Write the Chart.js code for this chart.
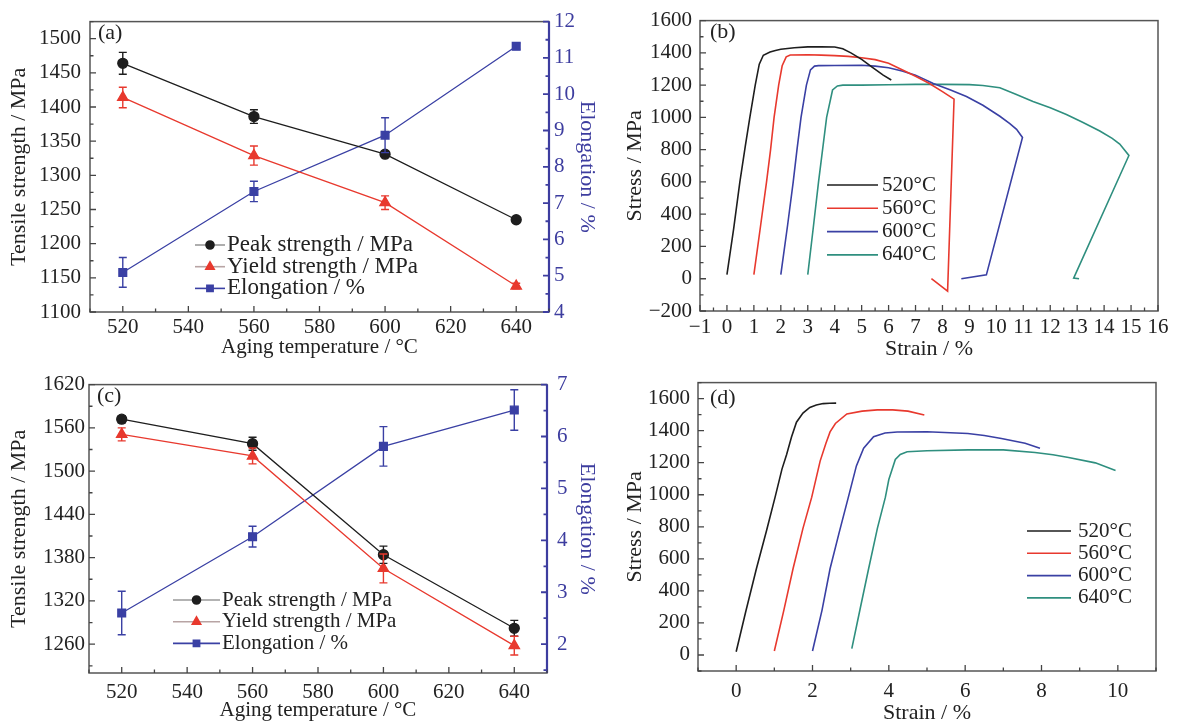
<!DOCTYPE html>
<html>
<head>
<meta charset="utf-8">
<script src="https://cdn.jsdelivr.net/npm/chart.js@4.4.1/dist/chart.umd.min.js"></script>
<style>
body { margin: 0; background: #fff; width: 1182px; height: 726px; position: relative; overflow: hidden; }
canvas { position: absolute; }
</style>
</head>
<body>
<canvas id="pa" width="600" height="362" style="left:0;top:0"></canvas>
<canvas id="pb" width="582" height="362" style="left:600px;top:0"></canvas>
<canvas id="pc" width="600" height="364" style="left:0;top:362px"></canvas>
<canvas id="pd" width="582" height="364" style="left:600px;top:362px"></canvas>
<script>
/* DATA */
const temps = [520, 560, 600, 640];
const seriesNames = ["Peak strength / MPa", "Yield strength / MPa", "Elongation / %"];
const curveNames = ["520°C", "560°C", "600°C", "640°C"];

// tick labels
const tempTicks = [520, 540, 560, 580, 600, 620, 640];
const strengthTicksA = [1100, 1150, 1200, 1250, 1300, 1350, 1400, 1450, 1500];
const elongTicksA = [4, 5, 6, 7, 8, 9, 10, 11, 12];
const strengthTicksC = [1260, 1320, 1380, 1440, 1500, 1560, 1620];
const elongTicksC = [2, 3, 4, 5, 6, 7];
const strainTicksB = [-1, 0, 1, 2, 3, 4, 5, 6, 7, 8, 9, 10, 11, 12, 13, 14, 15, 16];
const stressTicksB = [-200, 0, 200, 400, 600, 800, 1000, 1200, 1400, 1600];
const strainTicksD = [0, 2, 4, 6, 8, 10];
const stressTicksD = [0, 200, 400, 600, 800, 1000, 1200, 1400, 1600];

// (a)
const peakA = [1464, 1386, 1331, 1235];
const peakAErr = [16, 10, 4, 3];
const yieldA = [1414, 1329, 1260, 1138];
const yieldAErr = [15, 14, 10, 4];
const elongA = [5.09, 7.32, 8.87, 11.32];
const elongAErr = [0.41, 0.28, 0.48, 0.08];

// (c)
const peakC = [1572, 1538, 1384, 1282];
const peakCErr = [5, 9, 12, 11];
const yieldC = [1551, 1521, 1365, 1258];
const yieldCErr = [9, 11, 20, 13];
const elongC = [2.6, 4.07, 5.81, 6.51];
const elongCErr = [0.42, 0.2, 0.38, 0.39];

// (b) stress-strain
const strainB520 = [0, 0.25, 0.48, 0.68, 0.85, 1.05, 1.2, 1.35, 1.6, 1.8, 2.0, 2.5, 3.0, 3.5, 4.0, 4.3, 4.6, 5.0, 5.4, 5.8, 6.1];
const stressB520 = [25, 310, 600, 820, 1000, 1200, 1330, 1385, 1405, 1415, 1422, 1432, 1437, 1438, 1436, 1425, 1400, 1360, 1310, 1262, 1232];
const strainB560 = [1.0, 1.25, 1.47, 1.62, 1.75, 1.92, 2.05, 2.2, 2.35, 3.0, 3.5, 4.0, 4.5, 5.0, 5.5, 6.0, 6.5, 7.0, 7.5, 8.0, 8.43, 8.19, 7.59];
const stressB560 = [25, 330, 600, 800, 1000, 1200, 1320, 1375, 1387, 1388, 1386, 1383, 1378, 1370, 1358, 1335, 1295, 1255, 1212, 1160, 1113, -77, 0];
const strainB600 = [2.0, 2.25, 2.46, 2.6, 2.75, 2.95, 3.1, 3.25, 3.4, 4.0, 5.0, 5.5, 6.0, 6.5, 7.0, 7.66, 8.3, 8.89, 9.5, 10.13, 10.5, 10.75, 10.97, 9.63, 8.7];
const stressB600 = [25, 330, 600, 800, 1000, 1200, 1295, 1318, 1321, 1322, 1323, 1318, 1308, 1288, 1262, 1210, 1170, 1129, 1075, 1007, 962, 926, 876, 24, 0];
const strainB640 = [3.0, 3.2, 3.4, 3.55, 3.7, 3.92, 4.1, 4.3, 5.0, 6.0, 7.0, 8.0, 9.0, 9.5, 10.13, 10.7, 11.36, 12.0, 12.6, 13.2, 13.84, 14.3, 14.58, 14.92, 12.87, 13.07];
const stressB640 = [25, 310, 600, 800, 1000, 1170, 1195, 1200, 1200, 1202, 1205, 1205, 1203, 1198, 1184, 1145, 1099, 1060, 1018, 970, 916, 870, 835, 764, 4, 0];

// (d) stress-strain
const strainD520 = [0, 0.25, 0.53, 0.8, 1.02, 1.2, 1.32, 1.45, 1.58, 1.75, 1.93, 2.1, 2.28, 2.45, 2.62];
const stressD520 = [20, 270, 538, 780, 985, 1160, 1250, 1360, 1453, 1510, 1545, 1560, 1569, 1571, 1572];
const strainD560 = [1.0, 1.25, 1.49, 1.75, 1.98, 2.2, 2.35, 2.46, 2.6, 2.9, 3.3, 3.7, 4.1, 4.5, 4.93];
const stressD560 = [25, 280, 538, 790, 985, 1210, 1320, 1392, 1445, 1504, 1522, 1530, 1530, 1522, 1498];
const strainD600 = [2.0, 2.25, 2.46, 2.7, 2.94, 3.15, 3.34, 3.6, 3.9, 4.22, 5.0, 6.07, 6.5, 6.95, 7.57, 7.96];
const stressD600 = [25, 280, 538, 765, 985, 1180, 1290, 1362, 1385, 1392, 1393, 1382, 1370, 1351, 1321, 1290];
const strainD640 = [3.03, 3.25, 3.47, 3.7, 3.91, 4.0, 4.17, 4.3, 4.48, 5.0, 6.07, 7.0, 7.83, 8.3, 8.71, 9.41, 9.94];
const stressD640 = [40, 290, 538, 790, 985, 1095, 1220, 1252, 1268, 1275, 1280, 1280, 1264, 1250, 1233, 1199, 1152];

/* STYLE */
const FONT = "'Liberation Serif', 'Times New Roman', serif";
const FS = 21;
const cBlack = "#1e1e1e", cRed = "#e8392e", cBlue = "#3a40a4", cTeal = "#2f8f7f";
const axisBlue = "#3d3d9f";

Chart.defaults.font.family = FONT;
Chart.defaults.color = "#222";
Chart.defaults.animation = false;
Chart.defaults.plugins.legend.display = false;
Chart.defaults.plugins.tooltip.enabled = false;

const pts = (xs, ys) => xs.map((x, i) => ({ x: x, y: ys[i] }));
const fixTicks = vals => s => { s.ticks = vals.map(v => ({ value: v })); };
const fmt = v => (v < 0 ? "\u2212" + Math.abs(v) : String(v));

/* PLUGINS */
function frameTicks(axes, rightColor) {
    return {
        id: "frameTicks",
        afterDraw(chart) {
            const ctx = chart.ctx, a = chart.chartArea;
            ctx.save();
            ctx.strokeStyle = "#555";
            ctx.lineWidth = 1.5;
            ctx.strokeRect(a.left, a.top, a.right - a.left, a.bottom - a.top);
            if (rightColor) {
                ctx.strokeStyle = rightColor;
                ctx.lineWidth = 2.2;
                ctx.beginPath();
                ctx.moveTo(a.right, a.top);
                ctx.lineTo(a.right, a.bottom);
                ctx.stroke();
            }
            axes.forEach(ax => {
                const sc = chart.scales[ax.id];
                const vals = sc.ticks.map(t => t.value);
                const step = vals[1] - vals[0];
                const marks = [[vals[0] - step / 2, 3.5]];
                vals.forEach(v => { marks.push([v, 6]); marks.push([v + step / 2, 3.5]); });
                ctx.strokeStyle = ax.color || "#444";
                ctx.lineWidth = ax.width || 1.3;
                ctx.beginPath();
                marks.forEach(([v, len]) => {
                    if (v < sc.min - 1e-9 || v > sc.max + 1e-9) return;
                    const p = sc.getPixelForValue(v);
                    if (sc.isHorizontal()) { ctx.moveTo(p, a.bottom); ctx.lineTo(p, a.bottom - len); }
                    else if (sc.position === "left") { ctx.moveTo(a.left, p); ctx.lineTo(a.left + len, p); }
                    else { ctx.moveTo(a.right, p); ctx.lineTo(a.right - len, p); }
                });
                ctx.stroke();
            });
            ctx.restore();
        }
    };
}

const errorBars = {
    id: "errorBars",
    afterDatasetsDraw(chart) {
        const ctx = chart.ctx;
        ctx.save();
        chart.data.datasets.forEach((ds, i) => {
            if (!ds.errors) return;
            const meta = chart.getDatasetMeta(i);
            const ys = chart.scales[meta.yAxisID];
            ctx.strokeStyle = ds.borderColor;
            ctx.lineWidth = 1.4;
            meta.data.forEach((pt, j) => {
                const v = ds.data[j].y, e = ds.errors[j];
                const t = ys.getPixelForValue(v + e), b = ys.getPixelForValue(v - e);
                ctx.beginPath();
                ctx.moveTo(pt.x, t); ctx.lineTo(pt.x, b);
                ctx.moveTo(pt.x - 4, t); ctx.lineTo(pt.x + 4, t);
                ctx.moveTo(pt.x - 4, b); ctx.lineTo(pt.x + 4, b);
                ctx.stroke();
            });
        });
        ctx.restore();
    }
};

function insideLegend(cfg) {
    return {
        id: "insideLegend",
        afterDraw(chart) {
            const ctx = chart.ctx;
            ctx.save();
            ctx.textBaseline = "middle";
            chart.data.datasets.forEach((ds, i) => {
                const y = cfg.y + i * cfg.row;
                ctx.strokeStyle = ds.legendLine || ds.borderColor;
                ctx.lineWidth = 1.6;
                ctx.beginPath();
                ctx.moveTo(cfg.x, y);
                ctx.lineTo(cfg.x + cfg.len, y);
                ctx.stroke();
                if (ds.pointRadius > 0) {
                    ctx.fillStyle = ds.backgroundColor;
                    ctx.strokeStyle = ds.borderColor;
                    Chart.helpers.drawPoint(ctx, { pointStyle: ds.pointStyle, radius: ds.pointRadius * 0.8, rotation: 0, borderWidth: 1 }, cfg.x + cfg.len / 2, y);
                }
                ctx.fillStyle = "#222";
                ctx.font = cfg.size + "px " + FONT;
                ctx.fillText(ds.label, cfg.x + cfg.len + cfg.gap, y);
            });
            ctx.font = "22px " + FONT;
            ctx.fillStyle = "#222";
            ctx.fillText(cfg.tag, cfg.tagX, cfg.tagY);
            ctx.restore();
        }
    };
}

/* STRENGTH PANELS (a), (c) */
function strengthPanel(id, sets, ax, leg) {
    const mk = (i, ys, err, color, style, r, axis, legendLine) => ({
        label: seriesNames[i], data: pts(temps, ys), errors: err, yAxisID: axis,
        borderColor: color, backgroundColor: color, pointBackgroundColor: color, pointBorderColor: color,
        pointStyle: style, pointRadius: r, borderWidth: 1.3, legendLine: legendLine
    });
    new Chart(document.getElementById(id), {
        type: "line",
        data: {
            datasets: [
                mk(0, sets[0], sets[1], cBlack, "circle", 5, "y", "#9a9a9a"),
                mk(1, sets[2], sets[3], cRed, "triangle", 6, "y", "#b8a4a4"),
                mk(2, sets[4], sets[5], cBlue, "rect", 5.5, "y2")
            ]
        },
        options: {
            responsive: false,
            devicePixelRatio: 1,
            layout: { padding: { left: 0, right: 0, top: ax.top, bottom: 0 } },
            scales: {
                x: {
                    type: "linear", min: 510, max: 650,
                    grid: { display: false, drawTicks: false }, border: { display: false },
                    afterBuildTicks: fixTicks(tempTicks),
                    ticks: { padding: ax.xPad, font: { size: FS }, color: "#222", maxRotation: 0, autoSkip: false, callback: fmt },
                    title: { display: true, text: "Aging temperature / °C", font: { size: FS }, color: "#222", padding: { top: 0, bottom: ax.xTitlePad } },
                    afterFit: s => { s.height = ax.xH; }
                },
                y: {
                    position: "left", min: ax.yMin, max: ax.yMax,
                    grid: { display: false, drawTicks: false }, border: { display: false },
                    afterBuildTicks: fixTicks(ax.yTicks),
                    ticks: { padding: ax.yPad, font: { size: FS }, color: "#222", autoSkip: false, callback: fmt },
                    title: { display: true, text: "Tensile strength / MPa", font: { size: FS + 1 }, color: "#222", padding: { top: ax.yTitlePad, bottom: 0 } },
                    afterFit: s => { s.width = ax.yW; }
                },
                y2: {
                    position: "right", min: ax.y2Min, max: ax.y2Max,
                    grid: { display: false, drawTicks: false }, border: { display: false },
                    afterBuildTicks: fixTicks(ax.y2Ticks),
                    ticks: { padding: ax.y2Pad, font: { size: FS }, color: axisBlue, autoSkip: false, callback: fmt },
                    title: { display: true, text: "Elongation / %", font: { size: FS + 1 }, color: axisBlue, padding: { top: 0, bottom: 0 } },
                    afterFit: s => { s.width = ax.y2W; }
                }
            }
        },
        plugins: [
            frameTicks([{ id: "x" }, { id: "y" }, { id: "y2", color: axisBlue, width: 1.8 }], axisBlue),
            errorBars,
            insideLegend(leg)
        ]
    });
}

strengthPanel("pa", [peakA, peakAErr, yieldA, yieldAErr, elongA, elongAErr],
    { top: 16, xH: 50, xPad: 2.5, xTitlePad: 1.5, yW: 90, yMin: 1100, yMax: 1525, yTicks: strengthTicksA, yPad: 9, yTitlePad: 6,
      y2W: 51, y2Min: 4, y2Max: 12, y2Ticks: elongTicksA, y2Pad: 5 },
    { x: 195, len: 30, gap: 2, y: 245, row: 21.7, size: 23, tag: "(a)", tagX: 98, tagY: 33 });

strengthPanel("pc", [peakC, peakCErr, yieldC, yieldCErr, elongC, elongCErr],
    { top: 15, xH: 53, xPad: 7, xTitlePad: 3.4, yW: 89, yMin: 1220, yMax: 1620, yTicks: strengthTicksC, yPad: 4, yTitlePad: 6,
      y2W: 53, y2Min: 1.444, y2Max: 7, y2Ticks: elongTicksC, y2Pad: 10 },
    { x: 173, len: 47, gap: 2, y: 238, row: 21.7, size: 21, tag: "(c)", tagX: 97, tagY: 34 });

/* STRESS-STRAIN PANELS (b), (d) */
function curvePanel(id, curves, ax, leg) {
    const colors = [cBlack, cRed, cBlue, cTeal];
    new Chart(document.getElementById(id), {
        type: "line",
        data: {
            datasets: curves.map((c, i) => ({
                label: curveNames[i], data: pts(c[0], c[1]),
                borderColor: colors[i], backgroundColor: colors[i],
                borderWidth: 1.6, pointRadius: 0
            }))
        },
        options: {
            responsive: false,
            devicePixelRatio: 1,
            layout: { padding: { left: ax.padL, right: ax.padR, top: ax.top, bottom: 0 } },
            scales: {
                x: {
                    type: "linear", min: ax.xMin, max: ax.xMax,
                    grid: { display: false, drawTicks: false }, border: { display: false },
                    afterBuildTicks: fixTicks(ax.xTicks),
                    ticks: { padding: ax.xPad, font: { size: FS }, color: "#222", maxRotation: 0, autoSkip: false, callback: fmt },
                    title: { display: true, text: "Strain / %", font: { size: FS + 1 }, color: "#222", padding: { top: 0, bottom: ax.xTitlePad } },
                    afterFit: s => { s.height = ax.xH; }
                },
                y: {
                    position: "left", min: ax.yMin, max: ax.yMax,
                    grid: { display: false, drawTicks: false }, border: { display: false },
                    afterBuildTicks: fixTicks(ax.yTicks),
                    ticks: { padding: 8, font: { size: FS }, color: "#222", autoSkip: false, callback: fmt },
                    title: { display: true, text: "Stress / MPa", font: { size: FS + 1 }, color: "#222", padding: { top: 2, bottom: 0 } },
                    afterFit: s => { s.width = ax.yW; }
                }
            }
        },
        plugins: [
            frameTicks([{ id: "x" }, { id: "y" }]),
            insideLegend(leg)
        ]
    });
}

curvePanel("pb", [[strainB520, stressB520], [strainB560, stressB560], [strainB600, stressB600], [strainB640, stressB640]],
    { padL: 20, padR: 24, top: 15, xMin: -1, xMax: 16, xTicks: strainTicksB, xPad: 3.5, xTitlePad: 0, xH: 51,
      yMin: -200, yMax: 1600, yTicks: stressTicksB, yW: 80 },
    { x: 227, len: 51, gap: 4, y: 185, row: 23.3, size: 21, tag: "(b)", tagX: 110, tagY: 32 });

curvePanel("pd", [[strainD520, stressD520], [strainD560, stressD560], [strainD600, stressD600], [strainD640, stressD640]],
    { padL: 20, padR: 26, top: 12, xMin: -1, xMax: 11, xTicks: strainTicksD, xPad: 8, xTitlePad: 0, xH: 55,
      yMin: -100, yMax: 1700, yTicks: stressTicksD, yW: 78 },
    { x: 427, len: 44, gap: 7, y: 169, row: 22.3, size: 21, tag: "(d)", tagX: 110, tagY: 36 });
</script>
</body>
</html>
